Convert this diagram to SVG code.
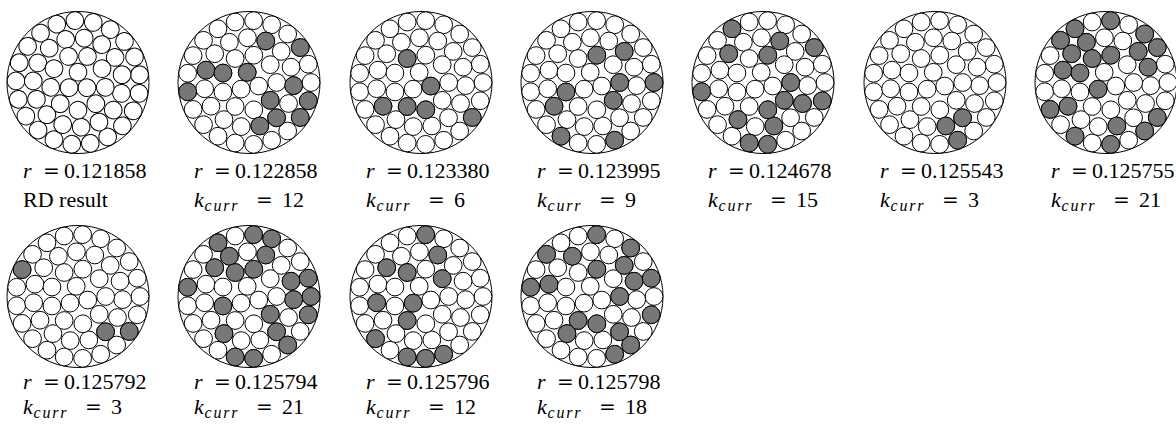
<svg xmlns="http://www.w3.org/2000/svg" width="1176" height="425" viewBox="0 0 1176 425">
<style>
.big{fill:#fff;stroke:#000;stroke-width:1}
.w{fill:#fff;stroke:#000;stroke-width:1}
.g{fill:#777;stroke:#000;stroke-width:1}
.t{font-family:"Liberation Serif","DejaVu Serif",serif;font-size:22px;fill:#000}
.i{font-style:italic}
.eq{font-family:"DejaVu Serif","Liberation Serif",serif;font-size:20px}
.sub{font-size:16px;letter-spacing:1.8px}
</style>
<defs>
<g id="pack">
<circle id="A0" cx="62.9" cy="0" r="9"/><circle id="A1" cx="60.1" cy="18.54" r="9"/><circle id="A2" cx="51.97" cy="35.43" r="9"/><circle id="A3" cx="39.22" cy="49.18" r="9"/><circle id="A4" cx="22.98" cy="58.55" r="9"/><circle id="A5" cx="4.7" cy="62.72" r="9"/><circle id="A6" cx="-14" cy="61.32" r="9"/><circle id="A7" cx="-31.45" cy="54.47" r="9"/><circle id="A8" cx="-46.11" cy="42.78" r="9"/><circle id="A9" cx="-56.67" cy="27.29" r="9"/><circle id="A10" cx="-62.2" cy="9.37" r="9"/><circle id="A11" cx="-62.2" cy="-9.37" r="9"/><circle id="A12" cx="-56.67" cy="-27.29" r="9"/><circle id="A13" cx="-46.11" cy="-42.78" r="9"/><circle id="A14" cx="-31.45" cy="-54.47" r="9"/><circle id="A15" cx="-14" cy="-61.32" r="9"/><circle id="A16" cx="4.7" cy="-62.72" r="9"/><circle id="A17" cx="22.98" cy="-58.55" r="9"/><circle id="A18" cx="39.22" cy="-49.18" r="9"/><circle id="A19" cx="51.97" cy="-35.43" r="9"/><circle id="A20" cx="60.1" cy="-18.54" r="9"/>
<circle id="B0" cx="45.29" cy="3.17" r="9"/><circle id="B1" cx="40.09" cy="21.31" r="9"/><circle id="B2" cx="27.95" cy="35.78" r="9"/><circle id="B3" cx="10.98" cy="44.05" r="9"/><circle id="B4" cx="-7.88" cy="44.71" r="9"/><circle id="B5" cx="-25.39" cy="37.64" r="9"/><circle id="B6" cx="-38.5" cy="24.06" r="9"/><circle id="B7" cx="-44.96" cy="6.32" r="9"/><circle id="B8" cx="-43.64" cy="-12.51" r="9"/><circle id="B9" cx="-34.78" cy="-29.18" r="9"/><circle id="B10" cx="-19.9" cy="-40.81" r="9"/><circle id="B11" cx="-1.58" cy="-45.37" r="9"/><circle id="B12" cx="17.01" cy="-42.09" r="9"/><circle id="B13" cx="32.66" cy="-31.54" r="9"/><circle id="B14" cx="42.66" cy="-15.53" r="9"/>
<circle id="C0" cx="28.1" cy="0" r="9"/><circle id="C1" cx="21.53" cy="18.06" r="9"/><circle id="C2" cx="4.88" cy="27.67" r="9"/><circle id="C3" cx="-14.05" cy="24.34" r="9"/><circle id="C4" cx="-26.41" cy="9.61" r="9"/><circle id="C5" cx="-26.41" cy="-9.61" r="9"/><circle id="C6" cx="-14.05" cy="-24.34" r="9"/><circle id="C7" cx="4.88" cy="-27.67" r="9"/><circle id="C8" cx="21.53" cy="-18.06" r="9"/>
<circle id="D0" cx="9.87" cy="3.59" r="9"/><circle id="D1" cx="-8.04" cy="6.75" r="9"/><circle id="D2" cx="-1.82" cy="-10.34" r="9"/>
</g>
</defs>

<g id="node1" transform="translate(78,82.5)">
<circle class="big" r="71"/>
<g transform="scale(0.986) rotate(10)"><use href="#pack" class="w"/></g>
</g>
<g id="node2" transform="translate(249,82.5)">
<circle class="big" r="71"/>
<g transform="scale(0.986)"><use href="#pack" class="w"/>
<use href="#B12" class="g"/><use href="#A19" class="g"/><use href="#B8" class="g"/><use href="#C5" class="g"/><use href="#D2" class="g"/><use href="#A10" class="g"/><use href="#C1" class="g"/><use href="#B0" class="g"/><use href="#A1" class="g"/><use href="#B2" class="g"/><use href="#A2" class="g"/><use href="#B3" class="g"/>
</g></g>
<g id="node3" transform="translate(421,82.5)">
<circle class="big" r="71"/>
<g transform="scale(0.986)"><use href="#pack" class="w"/>
<use href="#C6" class="g"/><use href="#D0" class="g"/><use href="#B6" class="g"/><use href="#C3" class="g"/><use href="#C2" class="g"/><use href="#A2" class="g"/>
</g></g>
<g id="node4" transform="translate(592,82.5)">
<circle class="big" r="71"/>
<g transform="scale(0.986)"><use href="#pack" class="w"/>
<use href="#C7" class="g"/><use href="#B13" class="g"/><use href="#C0" class="g"/><use href="#A0" class="g"/><use href="#C4" class="g"/><use href="#B6" class="g"/><use href="#C1" class="g"/><use href="#A7" class="g"/><use href="#A4" class="g"/>
</g></g>
<g id="node5" transform="translate(763,82.5)">
<circle class="big" r="71"/>
<g transform="scale(0.986)"><use href="#pack" class="w"/>
<use href="#A14" class="g"/><use href="#B9" class="g"/><use href="#B12" class="g"/><use href="#C7" class="g"/><use href="#A10" class="g"/><use href="#C0" class="g"/><use href="#B1" class="g"/><use href="#C1" class="g"/><use href="#A1" class="g"/><use href="#B3" class="g"/><use href="#C2" class="g"/><use href="#A5" class="g"/><use href="#A6" class="g"/><use href="#B5" class="g"/><use href="#A19" class="g"/>
</g></g>
<g id="node6" transform="translate(935,82.5)">
<circle class="big" r="71"/>
<g transform="scale(0.986)"><use href="#pack" class="w"/>
<use href="#B3" class="g"/><use href="#B2" class="g"/><use href="#A4" class="g"/>
</g></g>
<g id="node7" transform="translate(1106,82.5)">
<circle class="big" r="71"/>
<g transform="scale(0.986)"><use href="#pack" class="w"/>
<use href="#A14" class="g"/><use href="#A16" class="g"/><use href="#A13" class="g"/><use href="#B10" class="g"/><use href="#B13" class="g"/><use href="#A18" class="g"/><use href="#B9" class="g"/><use href="#C6" class="g"/><use href="#C7" class="g"/><use href="#B8" class="g"/><use href="#C5" class="g"/><use href="#A19" class="g"/><use href="#B14" class="g"/><use href="#D1" class="g"/><use href="#B6" class="g"/><use href="#A9" class="g"/><use href="#A2" class="g"/><use href="#A7" class="g"/><use href="#B3" class="g"/><use href="#A3" class="g"/><use href="#A5" class="g"/>
</g></g>
<g id="node8" transform="translate(78,296.5)">
<circle class="big" r="71"/>
<g transform="scale(0.986)"><use href="#pack" class="w"/>
<use href="#A12" class="g"/><use href="#B2" class="g"/><use href="#A2" class="g"/>
</g></g>
<g id="node9" transform="translate(249,296.5)">
<circle class="big" r="71"/>
<g transform="scale(0.986)"><use href="#pack" class="w"/>
<use href="#A16" class="g"/><use href="#A17" class="g"/><use href="#A14" class="g"/><use href="#B10" class="g"/><use href="#B12" class="g"/><use href="#C7" class="g"/><use href="#C6" class="g"/><use href="#B9" class="g"/><use href="#A11" class="g"/><use href="#C4" class="g"/><use href="#B14" class="g"/><use href="#A20" class="g"/><use href="#A0" class="g"/><use href="#B0" class="g"/><use href="#A1" class="g"/><use href="#C1" class="g"/><use href="#B2" class="g"/><use href="#A3" class="g"/><use href="#A5" class="g"/><use href="#A6" class="g"/><use href="#B5" class="g"/>
</g></g>
<g id="node10" transform="translate(421,296.5)">
<circle class="big" r="71"/>
<g transform="scale(0.986)"><use href="#pack" class="w"/>
<use href="#A16" class="g"/><use href="#B12" class="g"/><use href="#C8" class="g"/><use href="#B9" class="g"/><use href="#C6" class="g"/><use href="#B7" class="g"/><use href="#D1" class="g"/><use href="#C3" class="g"/><use href="#A8" class="g"/><use href="#A6" class="g"/><use href="#A5" class="g"/><use href="#A4" class="g"/>
</g></g>
<g id="node11" transform="translate(592,296.5)">
<circle class="big" r="71"/>
<g transform="scale(0.986)"><use href="#pack" class="w"/>
<use href="#A16" class="g"/><use href="#A18" class="g"/><use href="#A13" class="g"/><use href="#B10" class="g"/><use href="#C7" class="g"/><use href="#B13" class="g"/><use href="#A11" class="g"/><use href="#B8" class="g"/><use href="#C0" class="g"/><use href="#B14" class="g"/><use href="#A1" class="g"/><use href="#C3" class="g"/><use href="#B5" class="g"/><use href="#A3" class="g"/><use href="#B2" class="g"/><use href="#A4" class="g"/><use href="#C2" class="g"/><use href="#A20" class="g"/>
</g></g>

<g id="labels" class="t">
<text y="178"><tspan class="i" x="23">r</tspan><tspan class="eq" x="43">=</tspan><tspan x="64">0.121858</tspan></text>
<text y="207" x="23">RD result</text>
<text y="178"><tspan class="i" x="194">r</tspan><tspan class="eq" x="214">=</tspan><tspan x="235">0.122858</tspan></text>
<text y="207"><tspan class="i" x="194">k</tspan><tspan class="i sub" x="204.5" dy="4">curr</tspan><tspan class="eq" x="256" dy="-4">=</tspan><tspan x="282">12</tspan></text>
<text y="178"><tspan class="i" x="366">r</tspan><tspan class="eq" x="386">=</tspan><tspan x="407">0.123380</tspan></text>
<text y="207"><tspan class="i" x="366">k</tspan><tspan class="i sub" x="376.5" dy="4">curr</tspan><tspan class="eq" x="428" dy="-4">=</tspan><tspan x="454">6</tspan></text>
<text y="178"><tspan class="i" x="537">r</tspan><tspan class="eq" x="557">=</tspan><tspan x="578">0.123995</tspan></text>
<text y="207"><tspan class="i" x="537">k</tspan><tspan class="i sub" x="547.5" dy="4">curr</tspan><tspan class="eq" x="599" dy="-4">=</tspan><tspan x="625">9</tspan></text>
<text y="178"><tspan class="i" x="708">r</tspan><tspan class="eq" x="728">=</tspan><tspan x="749">0.124678</tspan></text>
<text y="207"><tspan class="i" x="708">k</tspan><tspan class="i sub" x="718.5" dy="4">curr</tspan><tspan class="eq" x="770" dy="-4">=</tspan><tspan x="796">15</tspan></text>
<text y="178"><tspan class="i" x="880">r</tspan><tspan class="eq" x="900">=</tspan><tspan x="921">0.125543</tspan></text>
<text y="207"><tspan class="i" x="880">k</tspan><tspan class="i sub" x="890.5" dy="4">curr</tspan><tspan class="eq" x="942" dy="-4">=</tspan><tspan x="968">3</tspan></text>
<text y="178"><tspan class="i" x="1051">r</tspan><tspan class="eq" x="1071">=</tspan><tspan x="1092">0.125755</tspan></text>
<text y="207"><tspan class="i" x="1051">k</tspan><tspan class="i sub" x="1061.5" dy="4">curr</tspan><tspan class="eq" x="1113" dy="-4">=</tspan><tspan x="1139">21</tspan></text>
<text y="389"><tspan class="i" x="23">r</tspan><tspan class="eq" x="43">=</tspan><tspan x="64">0.125792</tspan></text>
<text y="414"><tspan class="i" x="23">k</tspan><tspan class="i sub" x="33.5" dy="4">curr</tspan><tspan class="eq" x="85" dy="-4">=</tspan><tspan x="111">3</tspan></text>
<text y="389"><tspan class="i" x="194">r</tspan><tspan class="eq" x="214">=</tspan><tspan x="235">0.125794</tspan></text>
<text y="414"><tspan class="i" x="194">k</tspan><tspan class="i sub" x="204.5" dy="4">curr</tspan><tspan class="eq" x="256" dy="-4">=</tspan><tspan x="282">21</tspan></text>
<text y="389"><tspan class="i" x="366">r</tspan><tspan class="eq" x="386">=</tspan><tspan x="407">0.125796</tspan></text>
<text y="414"><tspan class="i" x="366">k</tspan><tspan class="i sub" x="376.5" dy="4">curr</tspan><tspan class="eq" x="428" dy="-4">=</tspan><tspan x="454">12</tspan></text>
<text y="389"><tspan class="i" x="537">r</tspan><tspan class="eq" x="557">=</tspan><tspan x="578">0.125798</tspan></text>
<text y="414"><tspan class="i" x="537">k</tspan><tspan class="i sub" x="547.5" dy="4">curr</tspan><tspan class="eq" x="599" dy="-4">=</tspan><tspan x="625">18</tspan></text>
</g>
</svg>
